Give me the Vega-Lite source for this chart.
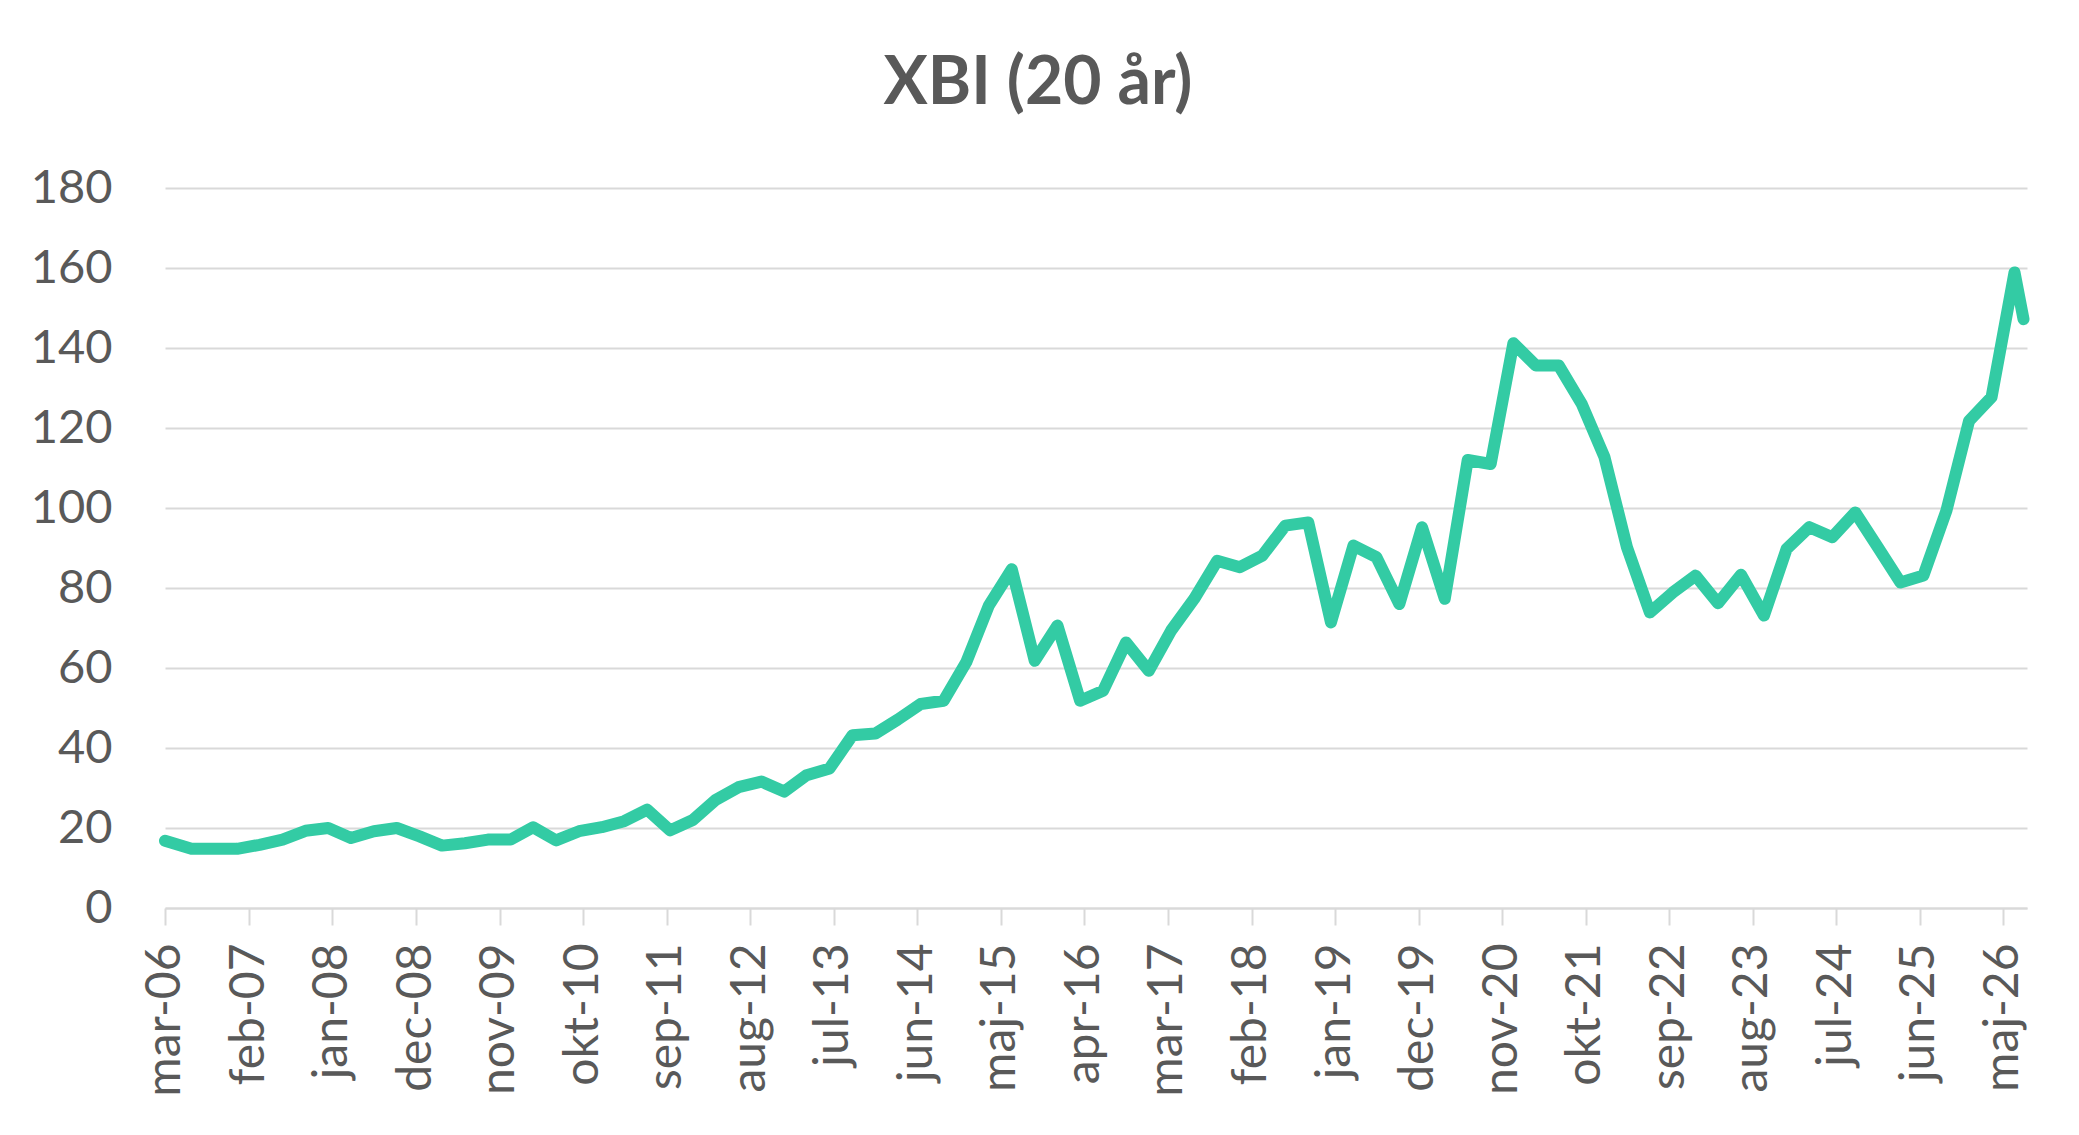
{
  "$schema": "https://vega.github.io/schema/vega-lite/v6.json",
  "width": 1862,
  "height": 720,
  "autosize": "none",
  "padding": {"left": 165, "top": 188, "right": 52, "bottom": 227},
  "background": "white",
  "title": {
    "text": "XBI (20 år)",
    "font": "Lato",
    "fontSize": 66,
    "fontWeight": "bold",
    "color": "#595959",
    "anchor": "middle",
    "frame": "group",
    "dx": -58,
    "offset": 46
  },
  "data": {
    "values": [
      {"date": "2006-03-10", "xbi": 16.8},
      {"date": "2006-06-24", "xbi": 14.8},
      {"date": "2006-09-24", "xbi": 14.8},
      {"date": "2006-12-24", "xbi": 14.8},
      {"date": "2007-03-24", "xbi": 15.8},
      {"date": "2007-06-24", "xbi": 17.1},
      {"date": "2007-09-24", "xbi": 19.3},
      {"date": "2007-12-24", "xbi": 20.0},
      {"date": "2008-03-24", "xbi": 17.5},
      {"date": "2008-06-24", "xbi": 19.2},
      {"date": "2008-09-24", "xbi": 20.0},
      {"date": "2008-12-24", "xbi": 17.9},
      {"date": "2009-03-24", "xbi": 15.6},
      {"date": "2009-06-24", "xbi": 16.2},
      {"date": "2009-09-24", "xbi": 17.1},
      {"date": "2009-12-24", "xbi": 17.1},
      {"date": "2010-03-24", "xbi": 20.2},
      {"date": "2010-06-24", "xbi": 16.9},
      {"date": "2010-09-24", "xbi": 19.2},
      {"date": "2010-12-24", "xbi": 20.2},
      {"date": "2011-03-24", "xbi": 21.7},
      {"date": "2011-06-24", "xbi": 24.6},
      {"date": "2011-09-24", "xbi": 19.4},
      {"date": "2011-12-24", "xbi": 22.0},
      {"date": "2012-03-24", "xbi": 27.0},
      {"date": "2012-06-24", "xbi": 30.2},
      {"date": "2012-09-24", "xbi": 31.6},
      {"date": "2012-12-24", "xbi": 29.1},
      {"date": "2013-03-24", "xbi": 33.2},
      {"date": "2013-06-24", "xbi": 34.9},
      {"date": "2013-09-24", "xbi": 43.2},
      {"date": "2013-12-24", "xbi": 43.6},
      {"date": "2014-03-24", "xbi": 47.1},
      {"date": "2014-06-24", "xbi": 51.0},
      {"date": "2014-09-24", "xbi": 51.8},
      {"date": "2014-12-24", "xbi": 61.5},
      {"date": "2015-03-24", "xbi": 75.6},
      {"date": "2015-06-24", "xbi": 84.7},
      {"date": "2015-09-24", "xbi": 61.8},
      {"date": "2015-12-24", "xbi": 70.6},
      {"date": "2016-03-24", "xbi": 51.8},
      {"date": "2016-06-24", "xbi": 54.3},
      {"date": "2016-09-24", "xbi": 66.4},
      {"date": "2016-12-24", "xbi": 59.3},
      {"date": "2017-03-24", "xbi": 69.4},
      {"date": "2017-06-24", "xbi": 77.3},
      {"date": "2017-09-24", "xbi": 86.8},
      {"date": "2017-12-24", "xbi": 85.2},
      {"date": "2018-03-24", "xbi": 88.1},
      {"date": "2018-06-24", "xbi": 95.6},
      {"date": "2018-09-24", "xbi": 96.4},
      {"date": "2018-12-24", "xbi": 71.4},
      {"date": "2019-03-24", "xbi": 90.6},
      {"date": "2019-06-24", "xbi": 87.7},
      {"date": "2019-09-24", "xbi": 76.0},
      {"date": "2019-12-24", "xbi": 95.2},
      {"date": "2020-03-24", "xbi": 77.3},
      {"date": "2020-06-24", "xbi": 112.0},
      {"date": "2020-09-24", "xbi": 111.0},
      {"date": "2020-12-24", "xbi": 141.2},
      {"date": "2021-03-24", "xbi": 135.6},
      {"date": "2021-06-24", "xbi": 135.6},
      {"date": "2021-09-24", "xbi": 126.0},
      {"date": "2021-12-24", "xbi": 112.7},
      {"date": "2022-03-24", "xbi": 90.2},
      {"date": "2022-06-24", "xbi": 73.9},
      {"date": "2022-09-24", "xbi": 78.9},
      {"date": "2022-12-24", "xbi": 83.1},
      {"date": "2023-03-24", "xbi": 76.2},
      {"date": "2023-06-24", "xbi": 83.3},
      {"date": "2023-09-24", "xbi": 73.1},
      {"date": "2023-12-24", "xbi": 89.8},
      {"date": "2024-03-24", "xbi": 95.2},
      {"date": "2024-06-24", "xbi": 92.7},
      {"date": "2024-09-24", "xbi": 98.9},
      {"date": "2024-12-24", "xbi": 90.1},
      {"date": "2025-03-24", "xbi": 81.4},
      {"date": "2025-06-24", "xbi": 83.1},
      {"date": "2025-09-24", "xbi": 99.3},
      {"date": "2025-12-24", "xbi": 121.8},
      {"date": "2026-03-24", "xbi": 127.7},
      {"date": "2026-06-24", "xbi": 158.9},
      {"date": "2026-07-30", "xbi": 147.2}
    ]
  },
  "mark": {
    "type": "line",
    "color": "#33cba4",
    "strokeWidth": 12,
    "strokeCap": "round",
    "strokeJoin": "round",
    "clip": false
  },
  "encoding": {
    "x": {
      "field": "date",
      "type": "temporal",
      "scale": {
        "type": "utc",
        "domain": [
          {"year": 2006, "month": 3, "date": 10, "utc": true},
          {"year": 2026, "month": 8, "date": 13, "utc": true}
        ]
      },
      "axis": {
        "title": null,
        "values": [
          {"year": 2006, "month": 3, "date": 10, "utc": true},
          {"year": 2007, "month": 2, "date": 10, "utc": true},
          {"year": 2008, "month": 1, "date": 10, "utc": true},
          {"year": 2008, "month": 12, "date": 10, "utc": true},
          {"year": 2009, "month": 11, "date": 10, "utc": true},
          {"year": 2010, "month": 10, "date": 10, "utc": true},
          {"year": 2011, "month": 9, "date": 10, "utc": true},
          {"year": 2012, "month": 8, "date": 10, "utc": true},
          {"year": 2013, "month": 7, "date": 10, "utc": true},
          {"year": 2014, "month": 6, "date": 10, "utc": true},
          {"year": 2015, "month": 5, "date": 10, "utc": true},
          {"year": 2016, "month": 4, "date": 10, "utc": true},
          {"year": 2017, "month": 3, "date": 10, "utc": true},
          {"year": 2018, "month": 2, "date": 10, "utc": true},
          {"year": 2019, "month": 1, "date": 10, "utc": true},
          {"year": 2019, "month": 12, "date": 10, "utc": true},
          {"year": 2020, "month": 11, "date": 10, "utc": true},
          {"year": 2021, "month": 10, "date": 10, "utc": true},
          {"year": 2022, "month": 9, "date": 10, "utc": true},
          {"year": 2023, "month": 8, "date": 10, "utc": true},
          {"year": 2024, "month": 7, "date": 10, "utc": true},
          {"year": 2025, "month": 6, "date": 10, "utc": true},
          {"year": 2026, "month": 5, "date": 10, "utc": true}
        ],
        "labelExpr": "['jan','feb','mar','apr','maj','jun','jul','aug','sep','okt','nov','dec'][utcmonth(datum.value)] + '-' + utcFormat(datum.value, '%y')",
        "labelAngle": -90,
        "labelAlign": "right",
        "labelBaseline": "middle",
        "labelFont": "Lato",
        "labelFontSize": 48,
        "labelColor": "#595959",
        "labelPadding": 18,
        "labelFlush": false,
        "labelOverlap": false,
        "grid": false,
        "domain": true,
        "domainColor": "#d9d9d9",
        "domainWidth": 2,
        "ticks": true,
        "tickColor": "#d9d9d9",
        "tickWidth": 2,
        "tickSize": 17
      }
    },
    "y": {
      "field": "xbi",
      "type": "quantitative",
      "scale": {"domain": [0, 180], "nice": false, "zero": true},
      "axis": {
        "title": null,
        "values": [0, 20, 40, 60, 80, 100, 120, 140, 160, 180],
        "labelFont": "Lato",
        "labelFontSize": 47,
        "labelColor": "#595959",
        "labelPadding": 53,
        "ticks": false,
        "tickSize": 0,
        "domain": false,
        "grid": true,
        "gridColor": "#d9d9d9",
        "gridWidth": 2
      }
    }
  },
  "config": {
    "view": {"stroke": null}
  }
}
